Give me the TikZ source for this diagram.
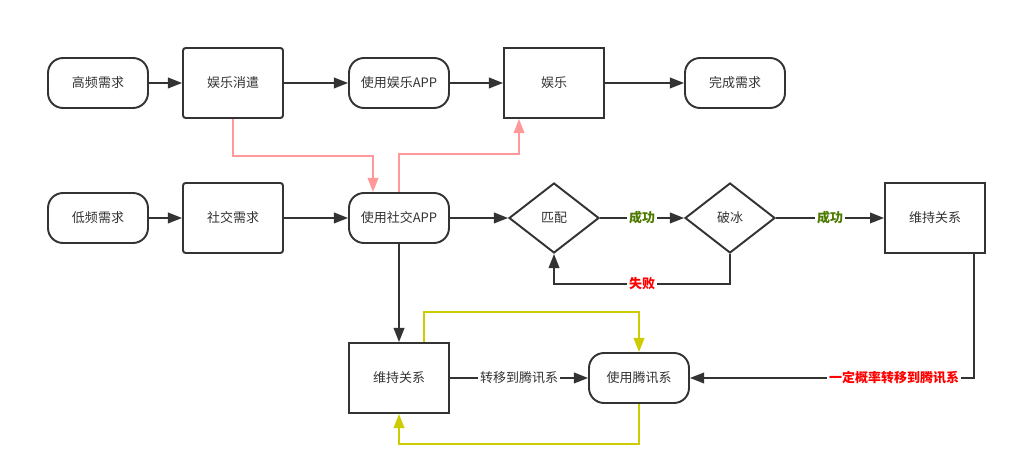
\documentclass[tikz,border=0pt]{standalone}
\usepackage{fontspec}
\setmainfont{Noto Sans CJK SC}
\usepackage{tikz}
\usetikzlibrary{arrows.meta}
\usetikzlibrary{shapes.geometric}
\usetikzlibrary{calc}
\definecolor{linegray}{HTML}{333333}
\definecolor{pinkline}{HTML}{FF9999}
\definecolor{yellowline}{HTML}{CCCC00}
\definecolor{okgreen}{HTML}{4D7A00}
\definecolor{failred}{HTML}{FF0000}
\tikzset{>={Triangle[length=8pt,width=6pt]}}

\begin{document}
\begin{tikzpicture}[x=0.02cm, y=-0.02cm, line width=1.1pt, color=linegray,
  font=\fontsize{7.4}{9}\selectfont,
  term/.style={draw, rounded corners=0.3cm, minimum width=2cm, minimum height=1cm},
  box/.style={draw, rounded corners=1.5pt, minimum width=2cm, minimum height=1.4cm},
  sharpbox/.style={draw, minimum width=2cm, minimum height=1.4cm},
  choice/.style={draw, diamond, shape aspect=1.28, minimum width=1.8cm, minimum height=1.4cm, inner sep=0pt},
  flow/.style={->, draw=linegray},
  pinkflow/.style={->, draw=pinkline},
  yellowflow/.style={->, draw=yellowline},
  oklabel/.style={fill=white, inner sep=1pt, text=okgreen, font=\fontsize{7.4}{9}\selectfont\bfseries},
  faillabel/.style={fill=white, inner sep=1pt, text=failred, font=\fontsize{7.4}{9}\selectfont\bfseries},
  movelabel/.style={fill=white, inner sep=1pt, text=linegray}]
\useasboundingbox (0,0) rectangle (1017,475);
\node[term] (hf) at (98,83) {高频需求};
\node[box] (yl) at (233,83) {娱乐消遣};
\node[term] (yapp) at (399,83) {使用娱乐APP};
\node[sharpbox] (ent) at (554,83) {娱乐};
\node[term] (done) at (735,83) {完成需求};
\node[term] (lf) at (98,218) {低频需求};
\node[box] (sx) at (233,218) {社交需求};
\node[term] (sapp) at (399,218) {使用社交APP};
\node[choice] (match) at (554,218) {匹配};
\node[choice] (ice) at (730,218) {破冰};
\node[sharpbox] (keep) at (935,218) {维持关系};
\node[sharpbox] (keeplow) at (399,378) {维持关系};
\node[term] (tx) at (639,378) {使用腾讯系};
\draw[flow] (hf) -- (yl);
\draw[flow] (yl) -- (yapp);
\draw[flow] (yapp) -- (ent);
\draw[flow] (ent) -- (done);
\draw[pinkflow] (yl.south) -- ++(0,37) -| ($(sapp.north)+(-26,0)$);
\draw[pinkflow] (sapp.north) -- ++(0,-38) -| ($(ent.south)+(-35,0)$);
\draw[flow] (lf) -- (sx);
\draw[flow] (sx) -- (sapp);
\draw[flow] (sapp) -- (match);
\draw[flow] (match) -- node[oklabel] {成功} (ice);
\draw[flow] (ice) -- node[oklabel] {成功} (keep);
\draw[flow] (ice.south) -- ++(0,30) -| node[pos=0.25, faillabel] {失败} (match.south);
\draw[flow] (sapp) -- (keeplow);
\draw[flow] (keeplow) -- node[movelabel] {转移到腾讯系} (tx);
\draw[flow] ($(keep.south)+(39,0)$) |- (tx.east);
\node[faillabel] (prob) at ($(keep.south |- tx.east)+(-41,0)$) {一定概率转移到腾讯系};
\draw[yellowflow] ($(keeplow.north)+(25,0)$) -- ++(0,-30) -| (tx.north);
\draw[yellowflow] (tx.south) -- ++(0,40) -| (keeplow.south);
\end{tikzpicture}
\end{document}
